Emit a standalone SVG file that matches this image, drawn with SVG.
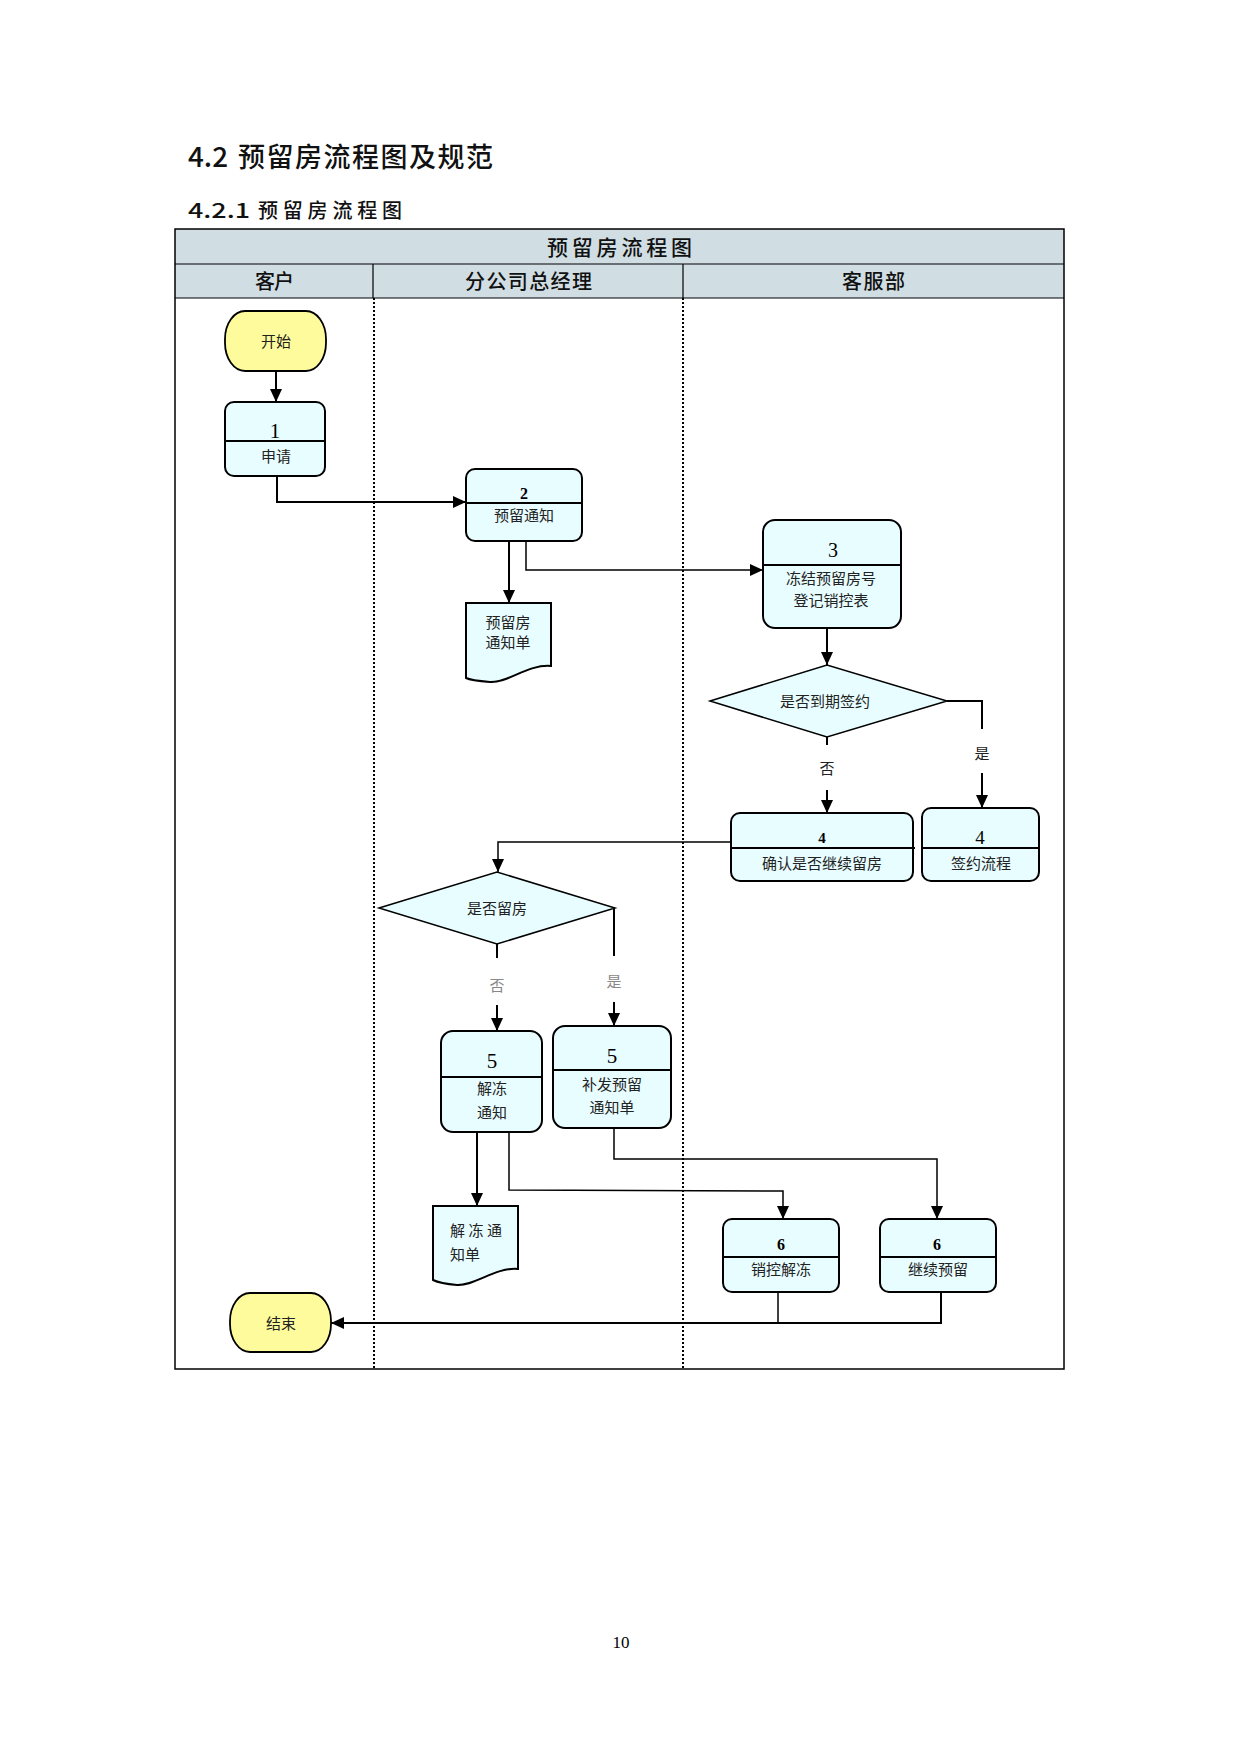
<svg xmlns="http://www.w3.org/2000/svg" width="1241" height="1754" viewBox="0 0 1241 1754">
<defs>
<marker id="arr" markerUnits="userSpaceOnUse" markerWidth="13" markerHeight="12" refX="13" refY="6" orient="auto">
<path d="M0,0 L13,6 L0,12 Z" fill="#000"/>
</marker>
<style>
.cjk{font-family:"Noto Sans CJK SC","Noto Sans CJK JP",sans-serif}
.h1{font-size:27px;font-weight:500;fill:#111}
.h2{font-size:20px;font-weight:500;fill:#111}
.th{font-size:20px;font-weight:500;fill:#111}
.lbl{font-family:"Noto Sans CJK SC","Noto Sans CJK JP",sans-serif;font-size:15px;fill:#222;text-anchor:middle}
.lbll{font-family:"Noto Sans CJK SC","Noto Sans CJK JP",sans-serif;font-size:15px;fill:#222}
.grey{fill:#888}
.num{font-family:"Liberation Serif",serif;text-anchor:middle;fill:#000}
.nb{font-weight:bold;font-size:16px}
.nr{font-size:21px}
.box{fill:#e8fdff;stroke:#000;stroke-width:2}
.term{fill:#fefb9c;stroke:#000;stroke-width:1.8}
.dia{fill:#e8fdff;stroke:#000;stroke-width:1.5}
.div{stroke:#000;stroke-width:1.8}
.conn{fill:none;stroke:#000;stroke-width:2}
.thin{stroke-width:1.5}
.lane{stroke:#000;stroke-width:2;stroke-dasharray:2 2}
</style>
</defs>
<rect width="1241" height="1754" fill="#fff"/>

<text class="cjk h1" x="188" y="167" textLength="40" lengthAdjust="spacingAndGlyphs">4.2</text>
<text class="cjk h1" x="238" y="167" textLength="255" lengthAdjust="spacing">预留房流程图及规范</text>
<text class="cjk h2" x="188" y="218" textLength="62" lengthAdjust="spacingAndGlyphs">4.2.1</text>
<text class="cjk h2" x="258" y="218" textLength="144" lengthAdjust="spacing">预留房流程图</text>

<g id="frame">
<rect x="175" y="229" width="889" height="69" fill="#d0dde3"/>
<rect x="175" y="229" width="889" height="1140" fill="none" stroke="#000" stroke-width="1.5"/>
<line x1="175" y1="264" x2="1064" y2="264" stroke="#000" stroke-width="1.2"/>
<line x1="175" y1="298" x2="1064" y2="298" stroke="#000" stroke-width="1.2"/>
<line x1="373" y1="264" x2="373" y2="298" stroke="#000" stroke-width="1.2"/>
<line x1="683" y1="264" x2="683" y2="298" stroke="#000" stroke-width="1.2"/>
<line class="lane" x1="374" y1="298" x2="374" y2="1369"/>
<line class="lane" x1="683" y1="298" x2="683" y2="1369"/>
<text class="cjk th" x="547" y="255" textLength="145" lengthAdjust="spacing" style="font-size:21px">预留房流程图</text>
<text class="cjk th" x="255" y="289" textLength="39" lengthAdjust="spacing">客户</text>
<text class="cjk th" x="465" y="289" textLength="127" lengthAdjust="spacing">分公司总经理</text>
<text class="cjk th" x="842" y="289" textLength="63" lengthAdjust="spacing">客服部</text>
</g>

<g id="connectors">
<line class="conn" x1="276" y1="371" x2="276" y2="402" marker-end="url(#arr)"/>
<polyline class="conn" points="277,476 277,502 466,502" marker-end="url(#arr)"/>
<line class="conn" x1="509" y1="541" x2="509" y2="603" marker-end="url(#arr)"/>
<polyline class="conn thin" points="526,541 526,570 763,570" marker-end="url(#arr)"/>
<line class="conn" x1="827" y1="628" x2="827" y2="665" marker-end="url(#arr)"/>
<line class="conn" x1="827" y1="737" x2="827" y2="745"/>
<line class="conn" x1="827" y1="790" x2="827" y2="813" marker-end="url(#arr)"/>
<polyline class="conn" points="947,701 982,701 982,729"/>
<line class="conn" x1="982" y1="773" x2="982" y2="808" marker-end="url(#arr)"/>
<polyline class="conn thin" points="731,842 498,842 498,872" marker-end="url(#arr)"/>
<line class="conn" x1="497" y1="944" x2="497" y2="958"/>
<line class="conn" x1="497" y1="1005" x2="497" y2="1031" marker-end="url(#arr)"/>
<line class="conn" x1="614" y1="908" x2="614" y2="956"/>
<line class="conn" x1="614" y1="1002" x2="614" y2="1026" marker-end="url(#arr)"/>
<line class="conn" x1="477" y1="1132" x2="477" y2="1206" marker-end="url(#arr)"/>
<polyline class="conn thin" points="509,1132 509,1190 783,1191 783,1219" marker-end="url(#arr)"/>
<polyline class="conn thin" points="614,1128 614,1159 937,1159 937,1219" marker-end="url(#arr)"/>
<line class="conn thin" x1="778" y1="1292" x2="778" y2="1323"/>
<polyline class="conn" points="941,1292 941,1323 331,1323" marker-end="url(#arr)"/>
<text class="lbl" x="827" y="774">否</text>
<text class="lbl" x="982" y="759">是</text>
<text class="lbl grey" x="497" y="991">否</text>
<text class="lbl grey" x="614" y="987">是</text>
</g>

<g id="start">
<rect class="term" x="225" y="311" width="101" height="60" rx="20" ry="28"/>
<text class="lbl" x="276" y="347">开始</text>
</g>

<g id="n1">
<rect class="box" x="225" y="402" width="100" height="74" rx="9"/>
<line class="div" x1="225" y1="441" x2="325" y2="441"/>
<text class="num nr" x="275" y="438">1</text>
<text class="lbl" x="276" y="462">申请</text>
</g>

<g id="n2">
<rect class="box" x="466" y="469" width="116" height="72" rx="9"/>
<line class="div" x1="466" y1="503" x2="583" y2="503" stroke-width="2.5"/>
<text class="num nb" x="524" y="499">2</text>
<text class="lbl" x="524" y="521">预留通知</text>
</g>

<g id="doc1">
<path class="box" d="M466,603 H551 V666 C528,664 508,683 490,682 C478,681 470,680 466,678 Z"/>
<text class="lbl" x="508" y="628">预留房</text>
<text class="lbl" x="508" y="648">通知单</text>
</g>

<g id="n3">
<rect class="box" x="763" y="520" width="138" height="108" rx="12"/>
<line class="div" x1="763" y1="565" x2="901" y2="565"/>
<text class="num" x="833" y="557" style="font-size:20px">3</text>
<text class="lbl" x="831" y="584">冻结预留房号</text>
<text class="lbl" x="831" y="606">登记销控表</text>
</g>

<g id="d1">
<polygon class="dia" points="710,701 827,665 947,701 827,737"/>
<text class="lbl" x="825" y="707">是否到期签约</text>
</g>

<g id="n4a">
<rect class="box" x="731" y="813" width="182" height="68" rx="9"/>
<line class="div" x1="731" y1="848" x2="915" y2="848"/>
<text class="num nb" x="822" y="843" style="font-size:15px">4</text>
<text class="lbl" x="822" y="869">确认是否继续留房</text>
</g>

<g id="n4b">
<rect class="box" x="922" y="808" width="117" height="73" rx="9"/>
<line class="div" x1="922" y1="848" x2="1039" y2="848"/>
<text class="num" x="980" y="844" style="font-size:19px">4</text>
<text class="lbl" x="981" y="869">签约流程</text>
</g>

<g id="d2">
<polygon class="dia" points="379,908 497,872 615,908 497,944"/>
<text class="lbl" x="497" y="914">是否留房</text>
</g>

<g id="n5a">
<rect class="box" x="441" y="1031" width="101" height="101" rx="12"/>
<line class="div" x1="441" y1="1077" x2="542" y2="1077"/>
<text class="num nr" x="492" y="1068">5</text>
<text class="lbl" x="492" y="1094">解冻</text>
<text class="lbl" x="492" y="1118">通知</text>
</g>

<g id="n5b">
<rect class="box" x="553" y="1026" width="118" height="102" rx="12"/>
<line class="div" x1="553" y1="1070" x2="671" y2="1070"/>
<text class="num nr" x="612" y="1063">5</text>
<text class="lbl" x="612" y="1090">补发预留</text>
<text class="lbl" x="612" y="1113">通知单</text>
</g>

<g id="doc2">
<path class="box" d="M433,1206 H518 V1269 C495,1267 475,1286 457,1285 C445,1284 437,1282 433,1280 Z"/>
<text class="lbll" x="450" y="1236" textLength="52" lengthAdjust="spacing">解 冻 通</text>
<text class="lbll" x="450" y="1260">知单</text>
</g>

<g id="n6a">
<rect class="box" x="723" y="1219" width="116" height="73" rx="9"/>
<line class="div" x1="723" y1="1257" x2="840" y2="1257"/>
<text class="num nb" x="781" y="1250">6</text>
<text class="lbl" x="781" y="1275">销控解冻</text>
</g>

<g id="n6b">
<rect class="box" x="880" y="1219" width="116" height="73" rx="9"/>
<line class="div" x1="880" y1="1257" x2="996" y2="1257"/>
<text class="num nb" x="937" y="1250">6</text>
<text class="lbl" x="938" y="1275">继续预留</text>
</g>

<g id="end">
<rect class="term" x="230" y="1293" width="101" height="59" rx="20" ry="28"/>
<text class="lbl" x="281" y="1329">结束</text>
</g>

<text x="621" y="1648" font-family="Liberation Serif, serif" font-size="17" text-anchor="middle">10</text>
</svg>
